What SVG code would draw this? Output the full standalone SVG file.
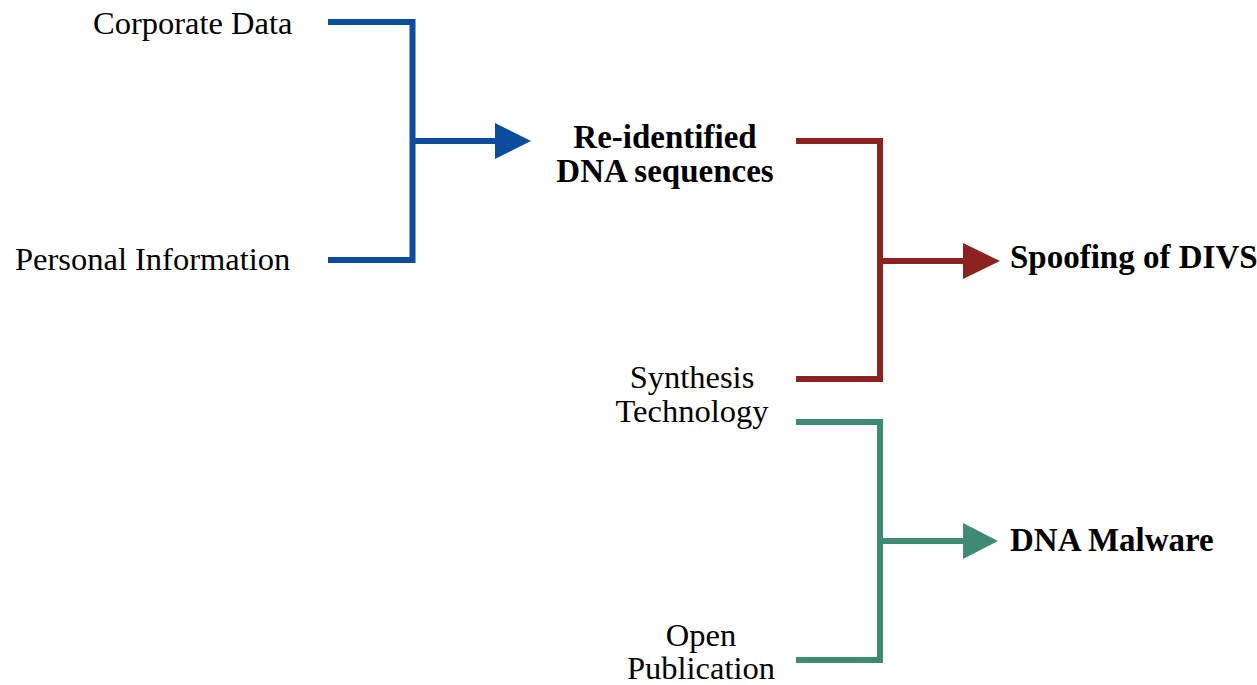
<svg xmlns="http://www.w3.org/2000/svg" width="1257" height="685" viewBox="0 0 1257 685">
<style>
text{font-family:"Liberation Serif","Times New Roman",serif;font-size:32.5px;fill:#000}
.b{font-weight:bold;font-size:33px}
.c{text-anchor:middle}
.ln{fill:none;stroke-width:6;stroke-linejoin:miter;stroke-linecap:butt}
</style>
<rect width="1257" height="685" fill="#fff"/>
<g id="connectors">
<path class="ln" stroke="#0b4c9c" d="M328,22 H412.5 V260 H328 M412.5,141 H497"/>
<polygon fill="#0b4c9c" points="495,123 531,141 495,159"/>
<path class="ln" stroke="#8c221f" d="M796,141 H880 V379 H796 M880,261 H966"/>
<polygon fill="#8c221f" points="963,243 1000,261 963,279"/>
<path class="ln" stroke="#3f8a73" d="M796,422 H880 V660 H796 M880,541 H966"/>
<polygon fill="#3f8a73" points="963,523 998,541 963,559"/>
</g>
<g id="corporate-data"><text x="93" y="34">Corporate Data</text></g>
<g id="personal-information"><text x="15" y="270">Personal Information</text></g>
<g id="reidentified"><text class="b c" x="665" y="148">Re-identified</text><text class="b c" x="665" y="182">DNA sequences</text></g>
<g id="synthesis"><text class="c" x="692" y="388">Synthesis</text><text class="c" x="692" y="422">Technology</text></g>
<g id="open-publication"><text class="c" x="701" y="646">Open</text><text class="c" x="701" y="679">Publication</text></g>
<g id="spoofing"><text class="b" x="1010" y="268">Spoofing of DIVS</text></g>
<g id="malware"><text class="b" x="1010" y="551">DNA Malware</text></g>
</svg>
